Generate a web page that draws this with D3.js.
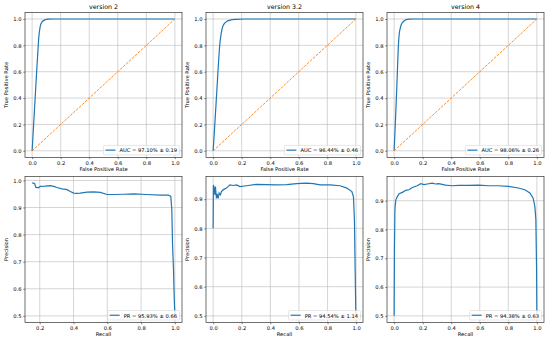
<!DOCTYPE html>
<html>
<head>
<meta charset="utf-8">
<script src="https://cdn.jsdelivr.net/npm/d3@7"></script>
<style>
body { margin: 0; background: #fff; }
text { font-family: "DejaVu Sans", sans-serif; fill: #000; }
</style>
</head>
<body>
<svg id="drawing_region"></svg>
<script>
// panel titles and legend texts
const titles = ["version 2", "version 3.2", "version 4"];
const rocLabels = ["AUC = 97.10% \u00b1 0.19", "AUC = 96.44% \u00b1 0.46", "AUC = 98.06% \u00b1 0.26"];
const prLabels = ["PR = 95.93% \u00b1 0.66", "PR = 94.54% \u00b1 1.14", "PR = 94.38% \u00b1 0.63"];

// tick values
const rocTicks = [0, 0.2, 0.4, 0.6, 0.8, 1.0];
const prXTicks = [0, 0.2, 0.4, 0.6, 0.8, 1.0];
const prYTicks = [0.5, 0.6, 0.7, 0.8, 0.9, 1.0];

// chance line
const chance = [[0, 0], [1, 1]];

// ROC curves [fpr, tpr]
const rocV2 = [[0,0],[0.01,0.19],[0.02,0.38],[0.03,0.57],[0.04,0.75],[0.047,0.866],[0.053,0.92],[0.059,0.954],
    [0.068,0.975],[0.078,0.987],[0.09,0.994],[0.113,0.999],[0.15,1.0],[0.3,1.0],[1,1]];
const rocV32 = [[0,0],[0.01,0.17],[0.02,0.35],[0.03,0.53],[0.04,0.71],[0.047,0.81],[0.055,0.88],[0.065,0.935],
    [0.078,0.965],[0.093,0.98],[0.12,0.991],[0.16,0.997],[0.22,1.0],[1,1]];
const rocV4 = [[0,0],[0.01,0.25],[0.02,0.52],[0.03,0.80],[0.035,0.88],[0.042,0.925],[0.049,0.954],[0.06,0.975],
    [0.072,0.987],[0.085,0.995],[0.107,0.999],[0.14,1.0],[1,1]];

// PR curves [recall, precision]
const prV2 = [[0.155,0.99],[0.165,0.99],[0.17,0.988],[0.176,0.975],[0.19,0.973],[0.204,0.978],[0.23,0.979],
    [0.263,0.981],[0.283,0.978],[0.302,0.974],[0.332,0.969],[0.362,0.966],[0.381,0.959],[0.401,0.953],
    [0.42,0.952],[0.44,0.953],[0.48,0.957],[0.519,0.958],[0.559,0.956],[0.598,0.948],[0.637,0.948],
    [0.7,0.949],[0.756,0.95],[0.834,0.948],[0.913,0.946],[0.962,0.946],[0.976,0.941],[0.982,0.892],
    [0.986,0.768],[0.992,0.67],[0.996,0.571],[1.0,0.5]];
const prV32 = [[0,0.8],[0.002,0.949],[0.006,0.94],[0.012,0.915],[0.016,0.943],[0.023,0.903],[0.028,0.918],
    [0.035,0.903],[0.042,0.921],[0.051,0.915],[0.058,0.926],[0.07,0.932],[0.093,0.938],[0.117,0.949],
    [0.14,0.947],[0.164,0.949],[0.187,0.943],[0.234,0.946],[0.304,0.951],[0.374,0.95],[0.444,0.949],
    [0.514,0.95],[0.584,0.953],[0.654,0.955],[0.701,0.953],[0.748,0.949],[0.818,0.949],[0.888,0.946],
    [0.935,0.938],[0.97,0.926],[0.981,0.909],[0.988,0.829],[0.993,0.658],[0.998,0.5]];
const prV4 = [[0,0.5],[0.002,0.718],[0.005,0.857],[0.007,0.88],[0.012,0.903],[0.023,0.915],[0.035,0.924],
    [0.058,0.929],[0.081,0.936],[0.104,0.938],[0.128,0.946],[0.162,0.952],[0.186,0.959],[0.209,0.956],
    [0.232,0.958],[0.267,0.961],[0.29,0.958],[0.313,0.959],[0.36,0.954],[0.406,0.952],[0.452,0.953],
    [0.522,0.953],[0.592,0.954],[0.661,0.952],[0.731,0.952],[0.8,0.95],[0.87,0.944],[0.916,0.938],
    [0.951,0.927],[0.974,0.909],[0.986,0.88],[0.993,0.834],[0.998,0.66],[1.0,0.509]];

const rocData = [rocV2, rocV32, rocV4];
const prData = [prV2, prV32, prV4];

class CurvePlot {

    constructor( config, data ) {
        this.config = config;
        this.data = data;
        this.init();
    }

    init() {
        let self = this;
        let c = self.config;

        self.chart = d3.select('#drawing_region').append('g')
            .attr('transform', `translate(${c.left}, ${c.top})`);

        let all = self.data.concat(c.chance || []);
        let pad = (ext) => { let p = (ext[1] - ext[0]) * 0.05; return [ext[0] - p, ext[1] + p]; };

        self.xscale = d3.scaleLinear()
            .domain( pad(d3.extent(all, d => d[0])) )
            .range( [0, c.width] );

        self.yscale = d3.scaleLinear()
            .domain( pad(d3.extent(all, d => d[1])) )
            .range( [c.height, 0] );
    }

    render() {
        let self = this;
        let c = self.config;
        let xd = self.xscale.domain(), yd = self.yscale.domain();
        let xt = c.xticks.filter(v => v >= xd[0] && v <= xd[1]);
        let yt = c.yticks.filter(v => v >= yd[0] && v <= yd[1]);
        let fmt = d3.format('.1f');

        // grid
        self.chart.append('g').selectAll('line.gx')
            .data(xt).join('line')
            .attr('x1', d => self.xscale(d)).attr('x2', d => self.xscale(d))
            .attr('y1', 0).attr('y2', c.height)
            .attr('stroke', '#b8b8b8').attr('stroke-width', 0.6);
        self.chart.append('g').selectAll('line.gy')
            .data(yt).join('line')
            .attr('y1', d => self.yscale(d)).attr('y2', d => self.yscale(d))
            .attr('x1', 0).attr('x2', c.width)
            .attr('stroke', '#b8b8b8').attr('stroke-width', 0.6);

        let line = d3.line()
            .x(d => self.xscale(d[0]))
            .y(d => self.yscale(d[1]))
            .curve(c.smooth ? d3.curveMonotoneX : d3.curveLinear);

        self.chart.append('path')
            .datum(self.data)
            .attr('d', line)
            .attr('fill', 'none')
            .attr('stroke', '#1f77b4')
            .attr('stroke-width', 1.2);

        if (c.chance) {
            self.chart.append('path')
                .datum(c.chance)
                .attr('d', d3.line().x(d => self.xscale(d[0])).y(d => self.yscale(d[1])))
                .attr('fill', 'none')
                .attr('stroke', '#ff7f0e')
                .attr('stroke-width', 0.9)
                .attr('stroke-dasharray', '2.8,1.2');
        }

        // frame
        self.chart.append('rect')
            .attr('width', c.width).attr('height', c.height)
            .attr('fill', 'none').attr('stroke', '#333').attr('stroke-width', 0.7);

        // axes
        let xaxis = d3.axisBottom(self.xscale).tickValues(xt).tickFormat(fmt)
            .tickSize(1.75).tickPadding(1.75).tickSizeOuter(0);
        let yaxis = d3.axisLeft(self.yscale).tickValues(yt).tickFormat(fmt)
            .tickSize(1.75).tickPadding(1.75).tickSizeOuter(0);

        let xg = self.chart.append('g')
            .attr('transform', `translate(0, ${c.height})`)
            .call(xaxis);
        let yg = self.chart.append('g').call(yaxis);
        [xg, yg].forEach(g => {
            g.select('.domain').remove();
            g.selectAll('line').attr('stroke', '#333').attr('stroke-width', 0.6);
            g.selectAll('text').attr('font-size', 5.2).attr('font-family', 'DejaVu Sans').attr('fill', '#222');
        });

        // labels
        self.chart.append('text')
            .attr('x', c.width / 2).attr('y', c.height + 13.5)
            .attr('text-anchor', 'middle').attr('font-size', 5.2).attr('fill', '#222')
            .text(c.xlabel);
        self.chart.append('text')
            .attr('transform', `translate(${-17}, ${c.height / 2}) rotate(-90)`)
            .attr('text-anchor', 'middle').attr('font-size', 5.2).attr('fill', '#222')
            .text(c.ylabel);
        if (c.title) {
            self.chart.append('text')
                .attr('x', c.width / 2).attr('y', -3.5)
                .attr('text-anchor', 'middle').attr('font-size', 6.3).attr('fill', '#222')
                .text(c.title);
        }

        // legend
        let lg = self.chart.append('g');
        let box = lg.append('rect');
        let txt = lg.append('text')
            .attr('font-size', 5.2).attr('fill', '#222')
            .attr('dominant-baseline', 'central')
            .text(c.legend);
        let tw = txt.node().getComputedTextLength();
        let lw = 2 + 10 + 4 + tw + 2.5, lh = 9.5;
        let lx = c.width - 2.5 - lw, ly = c.height - 2.5 - lh;
        box.attr('x', lx).attr('y', ly).attr('width', lw).attr('height', lh)
            .attr('rx', 1).attr('fill', '#fff').attr('fill-opacity', 0.8)
            .attr('stroke', '#ccc').attr('stroke-width', 0.5);
        lg.append('line')
            .attr('x1', lx + 2).attr('x2', lx + 12)
            .attr('y1', ly + lh / 2).attr('y2', ly + lh / 2)
            .attr('stroke', '#1f77b4').attr('stroke-width', 1.2);
        txt.attr('x', lx + 16).attr('y', ly + lh / 2 + 0.3);
    }
}

d3.select('#drawing_region').attr('width', 550).attr('height', 342);

const colLeft = [25, 206, 387];
const colWidth = 157;

titles.forEach((t, i) => {
    const roc = new CurvePlot({
        left: colLeft[i], top: 12.4, width: colWidth, height: 145,
        title: t, xlabel: 'False Positive Rate', ylabel: 'True Positive Rate',
        xticks: rocTicks, yticks: rocTicks, legend: rocLabels[i],
        chance: chance, smooth: true
    }, rocData[i]);
    roc.render();

    const pr = new CurvePlot({
        left: colLeft[i], top: 176.5, width: colWidth, height: 146,
        xlabel: 'Recall', ylabel: 'Precision',
        xticks: prXTicks, yticks: prYTicks, legend: prLabels[i],
        smooth: false
    }, prData[i]);
    pr.render();
});
</script>
</body>
</html>
